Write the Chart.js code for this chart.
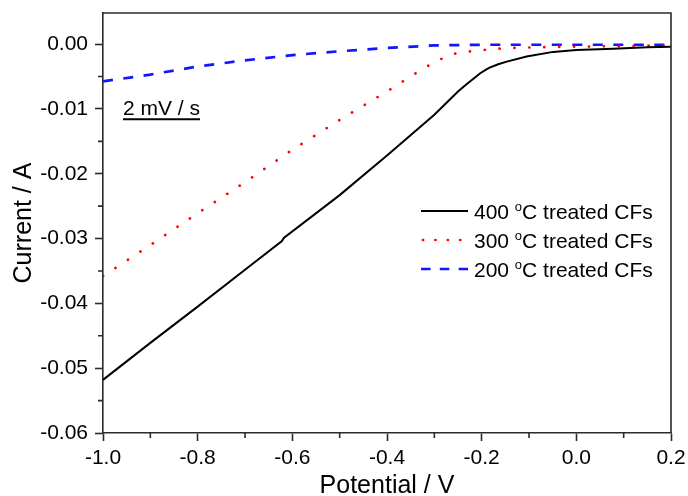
<!DOCTYPE html>
<html>
<head>
<meta charset="utf-8">
<script src="https://cdn.jsdelivr.net/npm/chart.js@4.4.1/dist/chart.umd.min.js"></script>
<style>
  html, body { margin: 0; padding: 0; background: #fff; }
</style>
</head>
<body>
<canvas id="plot" width="688" height="496"></canvas>
<script>
// potential (V) / current (A)
const potential400 = [-1.0, -0.9, -0.8, -0.7, -0.622, -0.618, -0.5, -0.4, -0.3, -0.25, -0.232, -0.203, -0.19, -0.182, -0.165, -0.147, -0.105, -0.049, 0.0, 0.078, 0.15, 0.2];
const current400   = [-0.0518, -0.0461, -0.0405, -0.0348, -0.0304, -0.0299, -0.0233, -0.0172, -0.0109, -0.0073, -0.0062, -0.0045, -0.0039, -0.0036, -0.0031, -0.0027, -0.0019, -0.0012, -0.0009, -0.0007, -0.0005, -0.0004];

const potential300 = [-1.0, -0.9, -0.8, -0.7, -0.6, -0.5, -0.45, -0.4, -0.35, -0.32, -0.295, -0.274, -0.246, -0.221, -0.193, -0.165, -0.14, -0.087, 0.0, 0.1, 0.2];
const current300   = [-0.0358, -0.0310, -0.0261, -0.0213, -0.0163, -0.0117, -0.0095, -0.0073, -0.0050, -0.0036, -0.0027, -0.0018, -0.0013, -0.0011, -0.0009, -0.0007, -0.0006, -0.0005, -0.0004, -0.0003, -0.0002];

const potential200 = [-1.0, -0.9, -0.8, -0.7, -0.6, -0.5, -0.4, -0.3, -0.2, -0.1, 0.0, 0.1, 0.2];
const current200   = [-0.00575, -0.0047, -0.00345, -0.0025, -0.0017, -0.0011, -0.0006, -0.0002, -0.0001, -0.0001, -0.0001, -0.0001, -0.0001];

const seriesLabels = ['400', '300', '200'];

const xTicks = [-1.0, -0.8, -0.6, -0.4, -0.2, 0.0, 0.2];
const xMinor = [-0.9, -0.7, -0.5, -0.3, -0.1, 0.1];
const yTicks = [-0.06, -0.05, -0.04, -0.03, -0.02, -0.01, 0.0];
const yMinor = [-0.055, -0.045, -0.035, -0.025, -0.015, -0.005];

const toPoints = (xs, ys) => xs.map((x, i) => ({ x: x, y: ys[i] }));

const FONT = '"Liberation Sans", Arial, sans-serif';
const AXIS = '#2b2b2b';

// top/right frame, minor ticks, the scan-rate note and the legend
const extras = {
  id: 'extras',
  afterDraw(chart) {
    const ctx = chart.ctx;
    const a = chart.chartArea;
    const xs = chart.scales.x, ys = chart.scales.y;
    ctx.save();
    ctx.strokeStyle = AXIS;
    ctx.lineWidth = 1.6;
    ctx.beginPath();
    ctx.moveTo(a.left, a.top);
    ctx.lineTo(a.right, a.top);
    ctx.lineTo(a.right, a.bottom);
    ctx.stroke();

    ctx.beginPath();
    xMinor.forEach(v => {
      const px = xs.getPixelForValue(v);
      ctx.moveTo(px, a.bottom);
      ctx.lineTo(px, a.bottom + 5);
    });
    yMinor.forEach(v => {
      const py = ys.getPixelForValue(v);
      ctx.moveTo(a.left, py);
      ctx.lineTo(a.left - 5, py);
    });
    ctx.stroke();

    // 2 mV / s
    ctx.fillStyle = '#000';
    ctx.font = '21px ' + FONT;
    ctx.textBaseline = 'alphabetic';
    ctx.textAlign = 'left';
    const note = '2 mV / s';
    const nx = a.left + 20, ny = a.top + 102;
    ctx.fillText(note, nx, ny);
    const nw = ctx.measureText(note).width;
    ctx.lineWidth = 2;
    ctx.strokeStyle = '#000';
    ctx.beginPath();
    ctx.moveTo(nx, ny + 4.3);
    ctx.lineTo(nx + nw, ny + 4.3);
    ctx.stroke();

    // legend
    chart.data.datasets.forEach((ds, i) => {
      const cy = a.top + 198 + i * 29;
      const lx = a.left + 318;
      ctx.strokeStyle = ds.borderColor;
      ctx.lineWidth = ds.borderWidth;
      ctx.lineCap = ds.borderCapStyle || 'butt';
      ctx.setLineDash(ds.legendDash || []);
      ctx.beginPath();
      ctx.moveTo(lx + (ds.legendStart || 0), cy);
      ctx.lineTo(lx + 47, cy);
      ctx.stroke();
      ctx.setLineDash([]);
      ctx.lineCap = 'butt';

      let tx = lx + 53;
      const by = cy + 8;
      ctx.fillStyle = '#000';
      ctx.font = '21px ' + FONT;
      const first = ds.label + ' ';
      ctx.fillText(first, tx, by);
      tx += ctx.measureText(first).width;
      ctx.font = '13px ' + FONT;
      ctx.fillText('o', tx, by - 8.5);
      tx += ctx.measureText('o').width;
      ctx.font = '21px ' + FONT;
      ctx.fillText('C treated CFs', tx, by);
    });
    ctx.restore();
  }
};

new Chart(document.getElementById('plot'), {
  type: 'line',
  data: {
    datasets: [
      {
        label: seriesLabels[0],
        data: toPoints(potential400, current400),
        borderColor: '#000000',
        borderWidth: 2,
        pointRadius: 0,
        tension: 0
      },
      {
        label: seriesLabels[1],
        data: toPoints(potential300, current300),
        borderColor: '#ff0000',
        borderWidth: 2.7,
        borderDash: [0.1, 14.8],
        borderCapStyle: 'round',
        legendDash: [0.1, 12.3],
        legendStart: 2,
        pointRadius: 0,
        tension: 0
      },
      {
        label: seriesLabels[2],
        data: toPoints(potential200, current200),
        borderColor: '#1414ff',
        borderWidth: 2.7,
        borderDash: [10, 10.5],
        legendDash: [9.5, 9.3],
        pointRadius: 0,
        tension: 0
      }
    ]
  },
  options: {
    responsive: false,
    animation: false,
    layout: { padding: { top: 13, right: 17, left: 0, bottom: 0 } },
    plugins: {
      legend: { display: false },
      tooltip: { enabled: false }
    },
    scales: {
      x: {
        type: 'linear',
        min: -1.0,
        max: 0.2,
        afterFit: s => { s.height = 63; s.paddingLeft = 0; s.paddingRight = 0; },
        afterBuildTicks: s => { s.ticks = xTicks.map(v => ({ value: v })); },
        border: { display: true, color: AXIS, width: 1.6 },
        grid: { drawOnChartArea: false, drawTicks: true, tickLength: 8, tickColor: AXIS, tickWidth: 1.6 },
        ticks: {
          color: '#000',
          font: { family: FONT, size: 21 },
          padding: 5,
          maxRotation: 0,
          callback: v => v.toFixed(1)
        },
        title: {
          display: true,
          text: 'Potential / V',
          color: '#000',
          font: { family: FONT, size: 25, lineHeight: 0.8 },
          padding: 0
        }
      },
      y: {
        type: 'linear',
        min: -0.06,
        max: 0.0048,
        afterFit: s => { s.width = 103; s.paddingTop = 0; s.paddingBottom = 0; },
        afterBuildTicks: s => { s.ticks = yTicks.map(v => ({ value: v })); },
        border: { display: true, color: AXIS, width: 1.6 },
        grid: { drawOnChartArea: false, drawTicks: true, tickLength: 8, tickColor: AXIS, tickWidth: 1.6 },
        ticks: {
          color: '#000',
          font: { family: FONT, size: 21 },
          padding: 7,
          callback: v => v.toFixed(2)
        },
        title: {
          display: true,
          text: 'Current / A',
          color: '#000',
          font: { family: FONT, size: 25, lineHeight: 1.2 },
          padding: { top: 9, bottom: 0 }
        }
      }
    }
  },
  plugins: [extras]
});
</script>
</body>
</html>
